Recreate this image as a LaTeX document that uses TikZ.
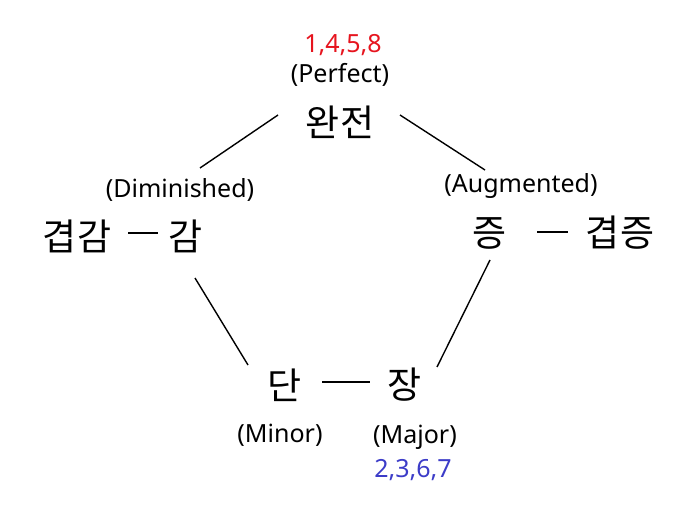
\documentclass[tikz,border=0pt]{standalone}
\usepackage{fontspec}
\setmainfont{Noto Sans}
\newfontfamily\kr{Noto Sans CJK KR}
\definecolor{myred}{RGB}{230,20,30}
\definecolor{myblue}{RGB}{60,60,200}
\begin{document}
\begin{tikzpicture}[x=1pt,y=-1pt,
  big/.style={font=\kr\fontsize{37}{40}\selectfont, inner sep=0pt},
  small/.style={font=\fontsize{25}{28}\selectfont, inner sep=0pt},
  ln/.style={line width=1.4pt}]
\useasboundingbox (0,0) rectangle (696,516);
\node[small,text=myred] (pn) at (343,45) {1,4,5,8};
\node[small] (pe) at (340,75) {(Perfect)};
\node[big] (wj) at (340,122) {완전};
\node[small] (di) at (180,190) {(Diminished)};
\node[big] (gg) at (77,236) {겹감};
\node[big] (g) at (186,236) {감};
\node[small] (au) at (521,186) {(Augmented)};
\node[big] (j) at (490,233) {증};
\node[big] (gj) at (620,233) {겹증};
\node[big] (d) at (285,385) {단};
\node[big] (jang) at (405,385) {장};
\node[small] (mi) at (280,435) {(Minor)};
\node[small] (ma) at (415,437) {(Major)};
\node[small,text=myblue] (mn) at (413,470) {2,3,6,7};
\coordinate (a1) at (278,115); \coordinate (a2) at (200,168);
\coordinate (b1) at (400,115); \coordinate (b2) at (485,170);
\coordinate (c1) at (128,233); \coordinate (c2) at (158,233);
\coordinate (e1) at (537,232); \coordinate (e2) at (568,232);
\coordinate (f1) at (195,278); \coordinate (f2) at (248,365);
\coordinate (h1) at (490,260); \coordinate (h2) at (437,367);
\coordinate (k1) at (322,382); \coordinate (k2) at (370,382);
\draw[ln] (a1)--(a2); \draw[ln] (b1)--(b2); \draw[ln] (c1)--(c2);
\draw[ln] (e1)--(e2); \draw[ln] (f1)--(f2); \draw[ln] (h1)--(h2);
\draw[ln] (k1)--(k2);
\end{tikzpicture}
\end{document}
